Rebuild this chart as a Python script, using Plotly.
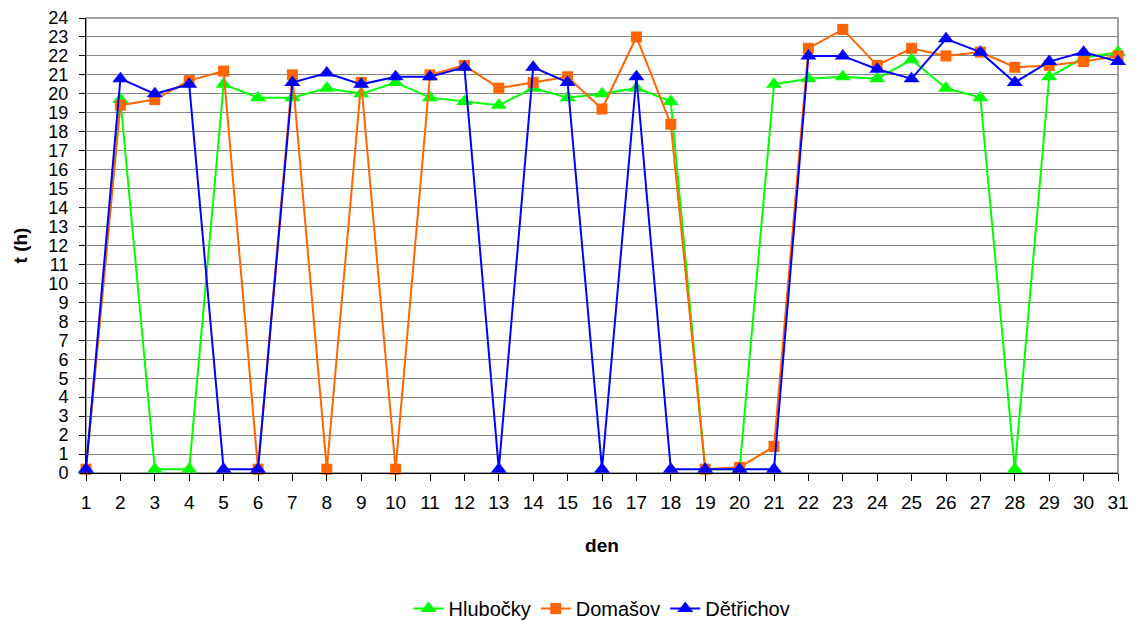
import plotly.graph_objects as go

# dny v mesici
den = list(range(1, 32))

hlubocky = [0.2, 19.7, 0.2, 0.2, 20.5, 19.8, 19.8, 20.3, 20.0, 20.6,
            19.8, 19.6, 19.4, 20.3, 19.8, 20.0, 20.3, 19.6, 0.2, 0.2,
            20.5, 20.8, 20.9, 20.8, 21.8, 20.3, 19.8, 0.2, 20.9, 21.9, 22.2]

domasov = [0.2, 19.4, 19.7, 20.7, 21.2, 0.2, 21.0, 0.2, 20.6, 0.2,
           21.0, 21.5, 20.3, 20.6, 20.9, 19.2, 23.0, 18.4, 0.2, 0.3,
           1.4, 22.4, 23.4, 21.5, 22.4, 22.0, 22.2, 21.4, 21.5, 21.7, 22.0]

detrichov = [0.2, 20.8, 20.0, 20.5, 0.2, 0.2, 20.6, 21.1, 20.5, 20.9,
             20.9, 21.4, 0.2, 21.4, 20.6, 0.2, 20.9, 0.2, 0.2, 0.2,
             0.2, 22.0, 22.0, 21.3, 20.8, 22.9, 22.2, 20.6, 21.7, 22.2, 21.7]

FONT = "Liberation Sans, Arial, sans-serif"

fig = go.Figure()

serie = [
    ("Hlubočky", hlubocky, "#00FF00", "triangle-up", 14),
    ("Domašov", domasov, "#FF6600", "square", 11),
    ("Dětřichov", detrichov, "#0000FF", "triangle-up", 14),
]
for nazev, hodnoty, barva, symbol, velikost in serie:
    fig.add_trace(go.Scatter(
        x=den, y=hodnoty, name=nazev, mode="lines+markers",
        line=dict(color=barva, width=2),
        marker=dict(color=barva, symbol=symbol, size=velikost),
        cliponaxis=False,
    ))

# sedy ramecek kolem grafu
fig.add_shape(type="rect", xref="paper", yref="paper", x0=0, y0=0, x1=1, y1=1,
              line=dict(color="#A0A0A0", width=2), layer="below")

fig.update_layout(
    width=1138, height=621,
    margin=dict(l=86, r=20, t=18, b=148, autoexpand=False),
    paper_bgcolor="white", plot_bgcolor="white",
    font=dict(family=FONT, size=19, color="black"),
    showlegend=True,
    legend=dict(orientation="h", x=0.5, xanchor="center", y=-0.255, yanchor="top",
                font=dict(size=20)),
    xaxis=dict(
        range=[1, 31], tickmode="array", tickvals=den,
        showgrid=False, zeroline=False, automargin=False,
        showline=True, linecolor="black", linewidth=1,
        ticks="outside", ticklen=7, tickcolor="black",
        ticklabelstandoff=5, tickfont=dict(size=19),
        title=dict(text="<b>den</b>", font=dict(size=19), standoff=26),
    ),
    yaxis=dict(
        range=[0, 24], dtick=1, tick0=0,
        showgrid=True, gridcolor="#858585", gridwidth=1, zeroline=False,
        automargin=False,
        showline=True, linecolor="black", linewidth=1,
        ticks="outside", ticklen=6, tickcolor="black",
        ticklabelstandoff=7, tickfont=dict(size=18),
        title=dict(text="<b>t (h)</b>", font=dict(size=19), standoff=15),
    ),
)

# bez okraju stranky, at graf sedi presne v okne
fig.write_html("out.html", config={"displayModeBar": False},
               post_script="document.body.style.margin='0';")
